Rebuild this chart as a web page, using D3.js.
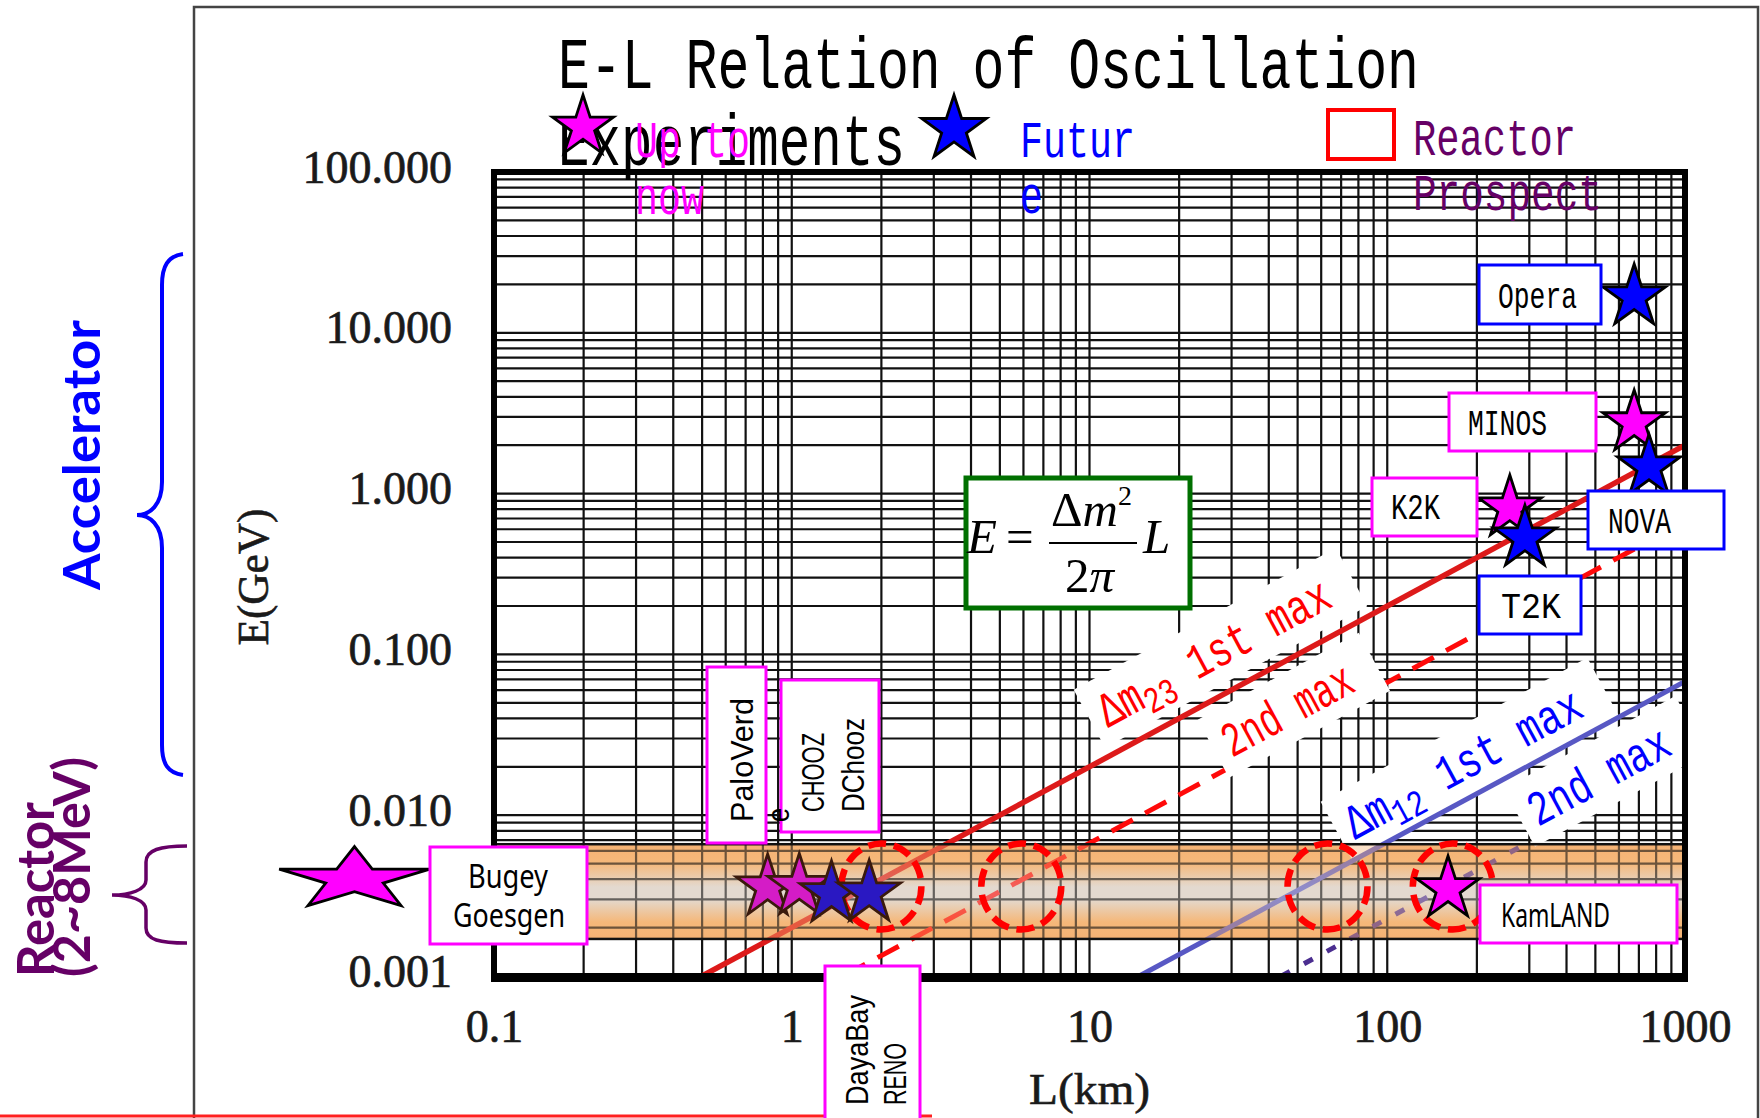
<!DOCTYPE html>
<html>
<head>
<meta charset="utf-8">
<script src="https://cdn.jsdelivr.net/npm/d3@7"></script>
<style>
  body { margin: 0; background: #fff; }
  svg { display: block; }
</style>
</head>
<body>
<script>
// ---- data ----
var xTicks = [0.1, 1, 10, 100, 1000];
var xTickLabels = ["0.1", "1", "10", "100", "1000"];
var yTicks = [100, 10, 1, 0.1, 0.01, 0.001];
var yTickLabels = ["100.000", "10.000", "1.000", "0.100", "0.010", "0.001"];

// reactor energy band (GeV)
var bandE = [0.0017, 0.0066];

// oscillation maximum lines, E = slope * L
var lineSlope = [2.0e-3, 6.7e-4, 6.8e-5, 2.27e-5];
var lineFromL = [0.5, 1.5, 14.7, 44];
var lineToL = [1000, 1000, 1000, 1000];

// reactor prospect circles
var circleL = [2.0, 5.9, 63, 166];
var circleE = 0.0036;

// experiments
var expNames = ["Bugey", "PaloVerde", "CHOOZ", "DayaBay", "RENO", "KamLAND", "Opera", "MINOS", "NOVA", "K2K", "T2K"];
var expL = [0.034, 0.83, 1.06, 1.36, 1.82, 160, 675, 675, 757, 258, 290];
var expE = [0.0040, 0.00357, 0.0036, 0.00324, 0.00328, 0.00348, 16.7, 2.75, 1.46, 0.813, 0.529];
var expKind = ["now", "nowDim", "nowDim", "futDim", "futDim", "now", "fut", "now", "fut", "now", "fut"];

// ---- setup ----
var W = 1760, H = 1118;
var svg = d3.select("body").append("svg").attr("width", W).attr("height", H);

var x = d3.scaleLog().domain([0.1, 1000]).range([494, 1685]);
var y = d3.scaleLog().domain([0.001, 100]).range([976, 172]);

var mono = "'Liberation Mono', 'DejaVu Sans Mono', monospace";
var serif = "'Liberation Serif', 'DejaVu Serif', serif";
var sans = "'Liberation Sans', Arial, sans-serif";

// gothic-like narrow text: S = nominal size, advance = S/2 per char
function gothic(g, str, px, py, S, color, len) {
  return g.append("text")
    .attr("x", px).attr("y", py)
    .attr("font-family", mono)
    .attr("font-size", S * 1.12)
    .attr("fill", color)
    .attr("textLength", len || str.length * S / 2)
    .attr("lengthAdjust", "spacingAndGlyphs")
    .text(str);
}

var defs = svg.append("defs");
var grad = defs.append("linearGradient").attr("id", "band")
  .attr("x1", 0).attr("y1", 0).attr("x2", 0).attr("y2", 1);
[[0, "#f5b274"], [0.2, "#f5b87a"], [0.45, "#e3d9cf"], [0.58, "#e3d9cf"], [0.82, "#f5b87a"], [1, "#f5b274"]]
  .forEach(function(s) { grad.append("stop").attr("offset", s[0]).attr("stop-color", s[1]); });
defs.append("clipPath").attr("id", "plotClip").append("rect")
  .attr("x", 494).attr("y", 172).attr("width", 1191).attr("height", 804);

// outer frame
svg.append("path").attr("d", "M194,1118 V7 H1758 V1118")
  .attr("fill", "none").attr("stroke", "#444").attr("stroke-width", 2.5);
svg.append("line").attr("x1", 0).attr("x2", 932).attr("y1", 1116).attr("y2", 1116)
  .attr("stroke", "#ff2020").attr("stroke-width", 3);

// band base
var bandY0 = y(bandE[1]), bandY1 = y(bandE[0]);
svg.append("rect").attr("x", 494).attr("width", 1191)
  .attr("y", bandY0).attr("height", bandY1 - bandY0).attr("fill", "url(#band)");

// grid
var grid = svg.append("g").attr("stroke", "#111").attr("stroke-width", 2.2);
grid.selectAll("line.v").data(x.ticks()).enter().append("line")
  .attr("x1", function(d) { return x(d); }).attr("x2", function(d) { return x(d); })
  .attr("y1", 172).attr("y2", 976);
grid.selectAll("line.h").data(y.ticks()).enter().append("line")
  .attr("y1", function(d) { return y(d); }).attr("y2", function(d) { return y(d); })
  .attr("x1", 494).attr("x2", 1685);

var plot = svg.append("g").attr("clip-path", "url(#plotClip)");

function lineData(i) {
  return [lineFromL[i], lineToL[i]].map(function(L) { return [L, lineSlope[i] * L]; });
}
var lineGen = d3.line().x(function(d) { return x(d[0]); }).y(function(d) { return y(d[1]); });

// dashed lines (2nd max)
plot.append("path").attr("d", lineGen(lineData(1))).attr("fill", "none")
  .attr("stroke", "#ff0a0a").attr("stroke-width", 5).attr("stroke-dasharray", "24 14");
plot.append("path").attr("d", lineGen(lineData(3))).attr("fill", "none")
  .attr("stroke", "#4b2e90").attr("stroke-width", 5).attr("stroke-dasharray", "10 16");

// line label banners
var ang = Math.atan2(y(1) - y(0.1), x(10) - x(1)) * 180 / Math.PI;
var labels = [
  { parts: ["Δm", "23", " 1st max"], px: 1108, py: 728, len: 258, color: "#ff0000" },
  { parts: ["2nd max"], px: 1232, py: 758, len: 143, color: "#ff0000" },
  { parts: ["Δm", "12", " 1st max"], px: 1355, py: 840, len: 263, color: "#0000ff" },
  { parts: ["2nd max"], px: 1538, py: 827, len: 155, color: "#0000ff" }
];
labels.forEach(function(l) {
  plot.append("rect")
    .attr("transform", "translate(" + l.px + "," + l.py + ") rotate(" + ang + ")")
    .attr("x", -12).attr("y", -50).attr("width", l.len + 40).attr("height", 66)
    .attr("fill", "#fff");
});

// solid lines (1st max)
plot.append("path").attr("d", lineGen(lineData(0))).attr("fill", "none")
  .attr("stroke", "#dd1a1a").attr("stroke-width", 5.5);
plot.append("path").attr("d", lineGen(lineData(2))).attr("fill", "none")
  .attr("stroke", "#5858c4").attr("stroke-width", 5);

// band tint overlay + edges
svg.append("rect").attr("x", 494).attr("width", 1191)
  .attr("y", bandY0).attr("height", bandY1 - bandY0).attr("fill", "url(#band)").attr("opacity", 0.4);
svg.append("rect").attr("x", 494).attr("width", 1191)
  .attr("y", bandY0).attr("height", bandY1 - bandY0).attr("fill", "none")
  .attr("stroke", "#111").attr("stroke-width", 2.5);

// plot frame
svg.append("rect").attr("x", 494).attr("y", 172).attr("width", 1191).attr("height", 804)
  .attr("fill", "none").attr("stroke", "#000").attr("stroke-width", 6);
svg.append("line").attr("x1", 491).attr("x2", 1688).attr("y1", 979).attr("y2", 979)
  .attr("stroke", "#000").attr("stroke-width", 6);

// label texts on banners
labels.forEach(function(l) {
  var t = svg.append("text")
    .attr("transform", "translate(" + l.px + "," + l.py + ") rotate(" + ang + ")")
    .attr("font-family", mono).attr("font-size", 49).attr("fill", l.color)
    .attr("textLength", l.len).attr("lengthAdjust", "spacingAndGlyphs");
  if (l.parts.length === 1) {
    t.text(l.parts[0]);
  } else {
    t.append("tspan").text(l.parts[0]);
    t.append("tspan").attr("font-size", 37).attr("dy", 9).text(l.parts[1]);
    t.append("tspan").attr("dy", -9).text(l.parts[2]);
  }
});

// prospect circles
svg.selectAll("ellipse.c").data(circleL).enter().append("ellipse")
  .attr("cx", function(d) { return x(d); }).attr("cy", y(circleE))
  .attr("rx", 40).attr("ry", 43)
  .attr("fill", "none").attr("stroke", "#ff0000").attr("stroke-width", 6.5)
  .attr("stroke-dasharray", "18 8");

// stars
var starFill = { now: "#ff00ff", fut: "#0000ff", nowDim: "#d41cc6", futDim: "#2a18c2" };
var starStroke = { now: "#000", fut: "#000", nowDim: "#3a1a0c", futDim: "#3a1a0c" };
function starPath(R) { return d3.symbol(d3.symbolStar, R * R / 0.8908130915292852)(); }

expNames.forEach(function(name, i) {
  var isBugey = name === "Bugey";
  var R = isBugey ? 32.6 : 33;
  var tr = "translate(" + x(expL[i]) + "," + y(expE[i]) + ")" + (isBugey ? " scale(2.43,1)" : "");
  svg.append("path").attr("d", starPath(R)).attr("transform", tr)
    .attr("fill", starFill[expKind[i]]).attr("stroke", starStroke[expKind[i]])
    .attr("stroke-width", 2.8).attr("stroke-linejoin", "miter")
    .attr("vector-effect", "non-scaling-stroke");
});

// label boxes
var boxes = [
  { x: 1479, y: 265, w: 122, h: 59, c: "#0000ff" },   // Opera
  { x: 1449, y: 393, w: 147, h: 58, c: "#ff00ff" },   // MINOS
  { x: 1372, y: 478, w: 105, h: 58, c: "#ff00ff" },   // K2K
  { x: 1588, y: 491, w: 136, h: 58, c: "#0000ff" },   // NOVA
  { x: 1479, y: 576, w: 102, h: 58, c: "#0000ff" },   // T2K
  { x: 1480, y: 885, w: 197, h: 58, c: "#ff00ff" },   // KamLAND
  { x: 430, y: 847, w: 157, h: 97, c: "#ff00ff" },    // Bugey
  { x: 707, y: 667, w: 59, h: 176, c: "#ff00ff" },    // PaloVerde
  { x: 781, y: 680, w: 98, h: 152, c: "#ff00ff" },    // CHOOZ
  { x: 825, y: 966, w: 95, h: 170, c: "#ff00ff" }     // DayaBay
];
svg.selectAll("rect.box").data(boxes).enter().append("rect")
  .attr("x", function(d) { return d.x; }).attr("y", function(d) { return d.y; })
  .attr("width", function(d) { return d.w; }).attr("height", function(d) { return d.h; })
  .attr("fill", "#fff").attr("stroke", function(d) { return d.c; }).attr("stroke-width", 3);

gothic(svg, "Opera", 1498, 308, 33, "#000", 79);
gothic(svg, "MINOS", 1468, 435, 33, "#000", 79);
gothic(svg, "K2K", 1391, 519, 33, "#000", 49);
gothic(svg, "NOVA", 1608, 533, 33, "#000", 63);
gothic(svg, "T2K", 1501, 618, 33, "#000", 60);

function narrow(str, px, py, len) {
  svg.append("text").attr("x", px).attr("y", py)
    .attr("font-family", "'Noto Sans', sans-serif").attr("font-size", 32)
    .attr("textLength", len).attr("lengthAdjust", "spacingAndGlyphs")
    .text(str);
}
narrow("Bugey", 468, 888, 80);
narrow("Goesgen", 453, 927, 112);
narrow("KamLAND", 1501, 927, 109);

function vtext(str, px, py, len) {
  svg.append("text").attr("transform", "translate(" + px + "," + py + ") rotate(-90)")
    .attr("font-family", sans).attr("font-size", 32)
    .attr("textLength", len).attr("lengthAdjust", "spacingAndGlyphs")
    .text(str);
}
vtext("PaloVerd", 753, 822, 124);
vtext("e", 789, 822, 14);
vtext("CHOOZ", 824, 812, 79);
vtext("DChooz", 864, 812, 94);
vtext("DayaBay", 868, 1105, 110);
vtext("RENO", 906, 1105, 62);

// formula box
var fb = svg.append("g");
fb.append("rect").attr("x", 966).attr("y", 478).attr("width", 224).attr("height", 130)
  .attr("fill", "#fff").attr("stroke", "#007000").attr("stroke-width", 5);
fb.append("text").attr("x", 967).attr("y", 553).attr("font-family", serif)
  .attr("font-style", "italic").attr("font-size", 49).text("E");
fb.append("text").attr("x", 1006).attr("y", 553).attr("font-family", serif)
  .attr("font-size", 49).text("=");
var num = fb.append("text").attr("x", 1051).attr("y", 526).attr("font-family", serif).attr("font-size", 49);
num.append("tspan").text("Δ");
num.append("tspan").attr("font-style", "italic").text("m");
num.append("tspan").attr("font-size", 28).attr("dy", -21).text("2");
fb.append("line").attr("x1", 1049).attr("x2", 1137).attr("y1", 543).attr("y2", 543)
  .attr("stroke", "#000").attr("stroke-width", 2);
var den = fb.append("text").attr("x", 1065).attr("y", 592).attr("font-family", serif).attr("font-size", 49);
den.append("tspan").text("2");
den.append("tspan").attr("font-style", "italic").text("π");
fb.append("text").attr("x", 1143).attr("y", 553).attr("font-family", serif)
  .attr("font-style", "italic").attr("font-size", 49).text("L");

// axes
var xAxis = svg.append("g").attr("transform", "translate(0,976)")
  .call(d3.axisBottom(x).tickValues(xTicks).tickSize(0)
    .tickFormat(function(d, i) { return xTickLabels[i]; }));
var yAxis = svg.append("g").attr("transform", "translate(494,0)")
  .call(d3.axisLeft(y).tickValues(yTicks).tickSize(0)
    .tickFormat(function(d, i) { return yTickLabels[i]; }));
[xAxis, yAxis].forEach(function(a) {
  a.select(".domain").remove();
  a.selectAll("text").attr("font-family", serif).attr("font-size", 46).attr("fill", "#1a1a1a")
    .attr("stroke", "#1a1a1a").attr("stroke-width", 0.7);
});
xAxis.selectAll("text").attr("y", 66).attr("dy", 0);
yAxis.selectAll("text").attr("x", -42).attr("dy", "0.22em");

svg.append("text").attr("transform", "translate(268,577) rotate(-90)")
  .attr("font-family", serif).attr("font-size", 45).attr("fill", "#1a1a1a")
  .attr("stroke", "#1a1a1a").attr("stroke-width", 0.6)
  .attr("text-anchor", "middle").attr("textLength", 137).attr("lengthAdjust", "spacingAndGlyphs")
  .text("E(GeV)");
svg.append("text").attr("x", 1029).attr("y", 1104)
  .attr("font-family", serif).attr("font-size", 45).attr("fill", "#1a1a1a")
  .attr("stroke", "#1a1a1a").attr("stroke-width", 0.6)
  .attr("textLength", 121).attr("lengthAdjust", "spacingAndGlyphs")
  .text("L(km)");

// title
gothic(svg, "E-L Relation of Oscillation", 558, 88, 64, "#000", 861);
gothic(svg, "Experiments", 558, 165, 64, "#000", 347);

// legend
svg.append("path").attr("d", starPath(32)).attr("transform", "translate(583,127)")
  .attr("fill", "#ff00ff").attr("stroke", "#000").attr("stroke-width", 2.8);
gothic(svg, "Up to", 635, 157, 46, "#ff00ff", 115);
gothic(svg, "now", 635, 214, 46, "#ff00ff", 69);
svg.append("path").attr("d", starPath(34)).attr("transform", "translate(954,129)")
  .attr("fill", "#0000ff").attr("stroke", "#000").attr("stroke-width", 2.8);
gothic(svg, "Futur", 1020, 157, 46, "#0000ff", 115);
gothic(svg, "e", 1020, 213, 46, "#0000ff", 23);
svg.append("rect").attr("x", 1328).attr("y", 110).attr("width", 66).attr("height", 49)
  .attr("fill", "none").attr("stroke", "#ff0000").attr("stroke-width", 4);
gothic(svg, "Reactor", 1413, 155, 46, "#660066", 163);
gothic(svg, "Prospect", 1413, 210, 46, "#660066", 189);

// left annotations
var bold = "Lato, 'Noto Sans', sans-serif";
svg.append("text").attr("transform", "translate(100,455) rotate(-90)")
  .attr("font-family", bold).attr("font-weight", "bold").attr("font-size", 52)
  .attr("fill", "#0000ff").attr("text-anchor", "middle")
  .attr("textLength", 270).attr("lengthAdjust", "spacingAndGlyphs").text("Accelerator");
svg.append("text").attr("transform", "translate(54,977) rotate(-90)")
  .attr("font-family", bold).attr("font-weight", "bold").attr("font-size", 52)
  .attr("fill", "#660066")
  .attr("textLength", 175).attr("lengthAdjust", "spacingAndGlyphs").text("Reactor");
svg.append("text").attr("transform", "translate(90,977) rotate(-90)")
  .attr("font-family", bold).attr("font-weight", "bold").attr("font-size", 52)
  .attr("fill", "#660066")
  .attr("textLength", 220).attr("lengthAdjust", "spacingAndGlyphs").text("(2~8MeV)");

svg.append("path")
  .attr("d", "M183,254 C168,256 162,266 162,285 L162,482 C162,505 150,515 137,515 C150,515 162,525 162,548 L162,745 C162,764 168,773 183,775")
  .attr("fill", "none").attr("stroke", "#0000ff").attr("stroke-width", 4);
svg.append("path")
  .attr("d", "M187,846 C160,846 146,850 146,862 L146,880 C146,890 130,895 112,895 C130,895 146,900 146,910 L146,928 C146,940 160,943 187,943")
  .attr("fill", "none").attr("stroke", "#660066").attr("stroke-width", 3.5);
</script>
</body>
</html>
